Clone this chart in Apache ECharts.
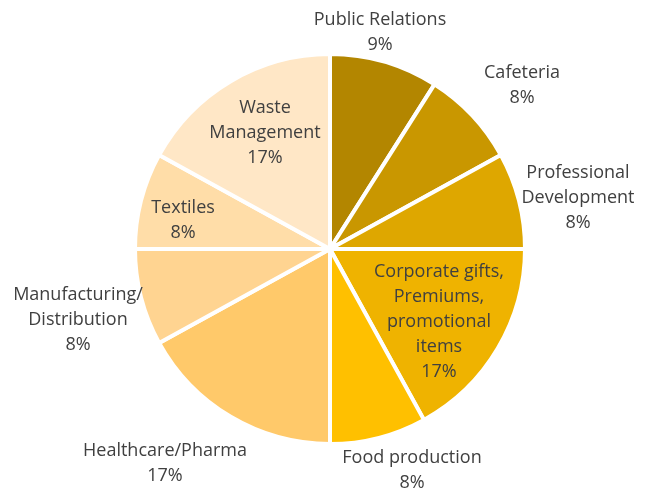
<!DOCTYPE html>
<html>
<head>
<meta charset="utf-8">
<script src="https://cdn.jsdelivr.net/npm/echarts@6/dist/echarts.min.js"></script>
<style>
  html, body { margin: 0; padding: 0; background: #fff; }
  #chart { width: 650px; height: 491px; }
</style>
</head>
<body>
<div id="chart"></div>
<script>
// slices clockwise from 12 o'clock
const sectors = [
  'Public Relations',
  'Cafeteria',
  'Professional\nDevelopment',
  'Corporate gifts,\nPremiums,\npromotional\nitems',
  'Food production',
  'Healthcare/Pharma',
  'Manufacturing/\nDistribution',
  'Textiles',
  'Waste\nManagement'
]
const shares = [9, 8, 8, 17, 8, 17, 8, 8, 17]

const colors = ['#b38600', '#c99700', '#dea700', '#efb300', '#ffc000',
                '#ffc96a', '#ffd491', '#ffdda8', '#ffe7c6']

// where each label sits (label centre, px)
const labelSpots = [
  [380, 32], [522, 85], [578, 198], [439, 322], [412, 470],
  [165, 463], [78, 320], [183, 220], [265, 133]
]

const chart = echarts.init(document.getElementById('chart'))

chart.setOption({
  animation: false,
  series: [{
    type: 'pie',
    center: [330, 249],
    radius: 195,
    startAngle: 90,
    clockwise: true,
    data: sectors.map((name, i) => ({
      name,
      value: shares[i],
      itemStyle: { color: colors[i] }
    })),
    itemStyle: { borderColor: '#fff', borderWidth: 4 },
    label: {
      show: true,
      formatter: '{b}\n{c}%',
      fontFamily: 'Open Sans',
      fontSize: 18,
      lineHeight: 25,
      color: '#404040',
      align: 'center',
      overflow: 'none',
      width: 300
    },
    labelLine: { show: false },
    labelLayout: (p) => ({
      x: labelSpots[p.dataIndex][0],
      y: labelSpots[p.dataIndex][1],
      align: 'center',
      verticalAlign: 'middle'
    }),
    emphasis: { disabled: true }
  }]
})
</script>
</body>
</html>
